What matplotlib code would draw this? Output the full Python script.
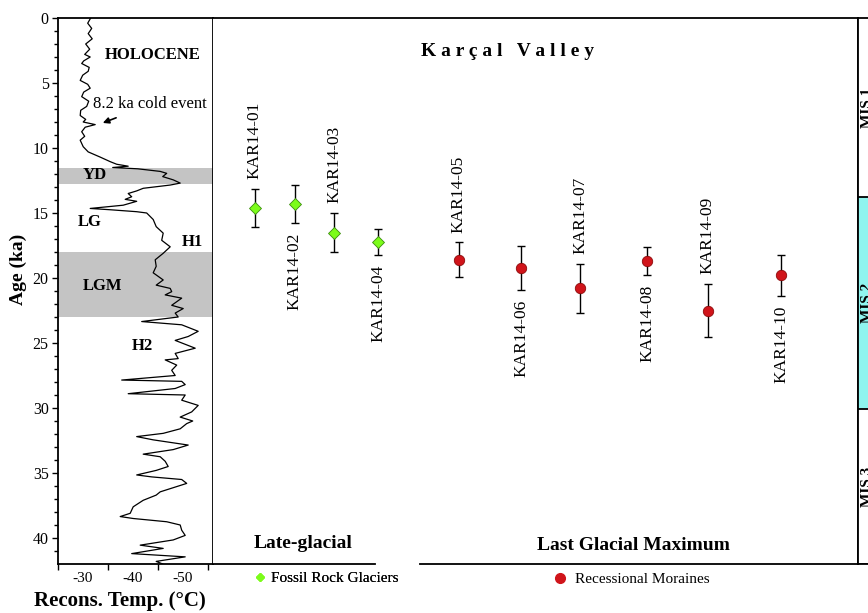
import numpy as np
import matplotlib
matplotlib.use('Agg')
import matplotlib.pyplot as plt
from matplotlib.lines import Line2D

# reconstructed temperature curve (age ka, temp degC)
curve_age = [0.0, 0.4, 0.8, 1.2, 1.6, 2.0, 2.4, 2.8, 3.0, 3.3, 3.5, 3.8, 4.1, 4.4, 4.8,
             5.1, 5.4, 5.7, 6.05, 6.4, 6.8, 7.1, 7.5, 7.8, 8.0, 8.2, 8.4, 8.75, 9.1, 9.4,
             9.9, 10.3, 10.7, 11.05, 11.25, 11.4, 11.5, 11.6, 11.8, 11.95, 12.2, 12.45,
             12.7, 12.85, 13.1, 13.3, 13.5, 13.75, 13.95, 14.1, 14.4, 14.5, 14.65, 14.75,
             14.9, 15.0, 15.5, 16.05, 16.55, 17.1, 17.6, 18.1, 18.6, 19.1, 19.6, 20.15,
             20.55, 20.8, 21.05, 21.3, 21.55, 22.1, 22.35, 22.7, 23.0, 23.35, 23.5, 23.6,
             24.1, 24.5, 24.8, 25.15, 25.4, 25.8, 26.2, 26.3, 26.7, 27.1, 27.5, 27.85,
             27.95, 28.2, 28.5, 28.9, 29.0, 29.4, 29.8, 30.3, 30.7, 31.0, 31.2, 31.6,
             31.95, 32.2, 32.45, 32.85, 33.2, 33.55, 33.75, 34.1, 34.5, 34.8, 35.15, 35.3,
             35.5, 35.8, 36.2, 36.45, 36.7, 37.1, 37.6, 38.1, 38.35, 38.5, 38.75, 39.0,
             39.4, 39.8, 40.15, 40.55, 40.8, 41.2, 41.45, 41.8, 42.0]
curve_temp = [-31.6, -31.0, -31.8, -31.1, -31.9, -30.6, -31.4, -30.4, -31.5, -30.2, -29.8,
              -31.3, -31.1, -30.0, -29.5, -31.0, -31.5, -30.2, -29.8, -31.2, -30.8, -29.6,
              -29.5, -30.6, -30.1, -32.5, -30.5, -29.8, -30.4, -29.5, -30.1, -31.1, -33.5,
              -35.5, -36.8, -39.1, -36.0, -41.0, -45.5, -46.8, -46.0, -48.1, -49.5, -47.5,
              -42.1, -40.8, -39.1, -39.8, -38.5, -40.8, -38.1, -35.5, -31.5, -35.5, -40.8,
              -42.8, -44.1, -44.7, -46.1, -45.8, -47.5, -46.1, -44.5, -44.7, -44.1, -46.1,
              -44.7, -47.5, -47.8, -46.5, -49.8, -47.8, -50.1, -48.5, -49.1, -41.8, -46.5,
              -49.8, -53.1, -51.1, -48.5, -50.8, -52.5, -48.5, -49.1, -46.5, -48.8, -47.8,
              -48.5, -37.8, -49.8, -50.5, -48.5, -39.1, -50.5, -49.8, -53.1, -51.8, -49.5,
              -52.0, -50.8, -49.5, -46.1, -40.8, -44.1, -51.1, -48.1, -42.1, -45.5, -46.5,
              -47.1, -44.7, -40.8, -43.8, -49.8, -50.8, -47.5, -45.5, -44.7, -42.1, -40.1,
              -39.5, -37.5, -40.1, -46.8, -49.5, -49.8, -50.5, -48.1, -41.5, -46.1, -39.8,
              -50.5, -44.7, -46.0]

# 10Be samples
sample_names = ['KAR14-01', 'KAR14-02', 'KAR14-03', 'KAR14-04', 'KAR14-05',
                'KAR14-06', 'KAR14-07', 'KAR14-08', 'KAR14-09', 'KAR14-10']
sample_age = [14.6, 14.3, 16.5, 17.2, 18.6, 19.2, 20.8, 18.7, 22.5, 19.8]
sample_err = [1.45, 1.45, 1.5, 1.0, 1.35, 1.7, 1.9, 1.1, 2.05, 1.6]
sample_x = [6.5, 12.7, 18.8, 25.6, 38.1, 47.8, 56.9, 67.3, 76.7, 88.1]
sample_type = ['rock', 'rock', 'rock', 'rock', 'moraine',
               'moraine', 'moraine', 'moraine', 'moraine', 'moraine']

# climate intervals (ka)
yd_band = (11.5, 12.8)
lgm_band = (18.0, 23.0)
mis_bounds = [0.0, 13.8, 30.1, 42.0]
mis_labels = ['MIS 1', 'MIS 2', 'MIS 3']
mis_colors = ['white', '#8ff5ef', 'white']

SERIF = ['Liberation Serif', 'DejaVu Serif']
plt.rcParams.update({
    'font.family': SERIF,
    'axes.unicode_minus': False,
    'axes.linewidth': 1.3,
})

W, H = 868, 613
fig = plt.figure(figsize=(W / 100, H / 100), dpi=100, facecolor='white')

def fx(px):
    return px / W

def fy(py):
    return 1 - py / H

y0, y1 = fy(564), fy(18)
xl0, xl1, xr1 = 57.7, 213, 858

# ---- left panel: temperature curve
axl = fig.add_axes([fx(xl0), y0, fx(xl1 - xl0), y1 - y0])
axl.axhspan(*yd_band, color='#c4c4c4', lw=0, zorder=0)
axl.axhspan(*lgm_band, color='#c4c4c4', lw=0, zorder=0)
axl.plot(curve_temp, curve_age, color='black', lw=0.9, zorder=2)
axl.set_ylim(42, 0)
axl.set_xlim(-25, -56.06)
axl.set_yticks(np.arange(0, 41, 5))
axl.set_yticks(np.arange(0, 42, 1), minor=True)
axl.set_xticks([-30, -40, -50])
axl.set_xticklabels(['-30', '-40', '-50'])
axl.set_xticks([-25, -35, -45, -55], minor=True)
axl.tick_params(axis='y', which='major', direction='out', length=4.5, width=1,
                labelsize=11.5, pad=2)
axl.tick_params(axis='y', which='minor', direction='out', length=2.8, width=1)
axl.tick_params(axis='x', which='major', length=0, labelsize=11, pad=6)
axl.tick_params(axis='x', which='minor', direction='out', length=4, width=1)
axl.set_ylabel('Age (ka)', fontsize=14, fontweight='bold')
axl.yaxis.set_label_coords(-0.20, 0.54)
axl.set_xlabel('Recons. Temp. (°C)', fontsize=15, fontweight='bold')
axl.xaxis.set_label_coords(0.40, -0.050)

axl.text(-44.0, 2.85, 'HOLOCENE', fontsize=12, fontweight='bold', ha='center', va='center')
axl.text(-32.1, 6.6, '8.2 ka cold event', fontsize=12, ha='left', va='center')
axl.annotate('', xy=(-33.5, 8.15), xytext=(-37.2, 7.6),
             arrowprops=dict(arrowstyle='-|>', color='black', lw=1.2, mutation_scale=9))
axl.text(-32.5, 12.1, 'YD', fontsize=12, fontweight='bold', ha='center', va='center')
axl.text(-31.5, 15.7, 'LG', fontsize=12, fontweight='bold', ha='center', va='center')
axl.text(-51.9, 17.2, 'H1', fontsize=12, fontweight='bold', ha='center', va='center')
axl.text(-34.0, 20.6, 'LGM', fontsize=12, fontweight='bold', ha='center', va='center')
axl.text(-42.0, 25.2, 'H2', fontsize=12, fontweight='bold', ha='center', va='center')

# ---- main panel: exposure ages
axm = fig.add_axes([fx(xl1), y0, fx(xr1 - xl1), y1 - y0])
axm.set_ylim(42, 0)
axm.set_xlim(0, 100)
axm.set_xticks([])
axm.set_yticks([])
axm.spines['left'].set_visible(False)
axm.spines['bottom'].set_visible(False)
axm.axhline(42, xmin=0, xmax=0.251, color='black', lw=1.3, clip_on=False)
axm.axhline(42, xmin=0.321, xmax=1, color='black', lw=1.3, clip_on=False)

styles = {
    'rock': dict(marker='D', ms=6.2, mfc='#7cfc1a', mec='#3c8c10', mew=0.6),
    'moraine': dict(marker='o', ms=7.5, mfc='#d0141a', mec='#8c0a0a', mew=0.6),
}
for i, name in enumerate(sample_names):
    axm.errorbar(sample_x[i], sample_age[i], yerr=sample_err[i], fmt='none',
                 ecolor='black', elinewidth=1.0, capsize=3, capthick=1.0, zorder=2)
    axm.plot(sample_x[i], sample_age[i], ls='none', zorder=3, **styles[sample_type[i]])
    if i % 2 == 0:
        axm.annotate(name, (sample_x[i], sample_age[i] - sample_err[i]),
                     xytext=(0, 7), textcoords='offset points', rotation=90,
                     ha='center', va='bottom', fontsize=12.5)
    else:
        axm.annotate(name, (sample_x[i], sample_age[i] + sample_err[i]),
                     xytext=(0, -7), textcoords='offset points', rotation=90,
                     ha='center', va='top', fontsize=12.5)

axm.text(45.6, 2.6, 'K a r ç a l   V a l l e y', fontsize=14, fontweight='bold',
         ha='center', va='center')
axm.text(14.0, 40.4, 'Late-glacial', fontsize=14, fontweight='bold', ha='center', va='center')
axm.text(65.2, 40.6, 'Last Glacial Maximum', fontsize=14, fontweight='bold',
         ha='center', va='center')

h_rock = Line2D([], [], ls='none', marker='D', ms=4.5, mfc='#7cfc1a', mec='#7cfc1a')
h_mor = Line2D([], [], ls='none', marker='o', ms=7, mfc='#d0141a', mec='#d0141a')
leg1 = fig.legend([h_rock], ['Fossil Rock Glaciers'], loc='center left',
                  bbox_to_anchor=(fx(254), fy(578)), frameon=False, fontsize=11,
                  handlelength=0.8, handletextpad=0.3, borderpad=0, borderaxespad=0)
fig.legend([h_mor], ['Recessional Moraines'], loc='center left',
           bbox_to_anchor=(fx(554), fy(579)), frameon=False, fontsize=11,
           handlelength=0.8, handletextpad=0.6, borderpad=0, borderaxespad=0)
fig.add_artist(leg1)

# ---- MIS strip (cut by the figure edge, as in the source figure)
axs = fig.add_axes([fx(xr1), y0, fx(24), y1 - y0])
axs.set_ylim(42, 0)
axs.set_xlim(0, 1)
axs.set_xticks([])
axs.set_yticks([])
for k in range(3):
    axs.axhspan(mis_bounds[k], mis_bounds[k + 1], color=mis_colors[k], lw=0)
    axs.axhline(mis_bounds[k + 1], color='black', lw=1.3)
    axs.text(0.40, (mis_bounds[k] + mis_bounds[k + 1]) / 2, mis_labels[k], rotation=90,
             fontsize=11, fontweight='bold', ha='center', va='center')

fig.savefig('out.png', dpi=100, facecolor='white')
